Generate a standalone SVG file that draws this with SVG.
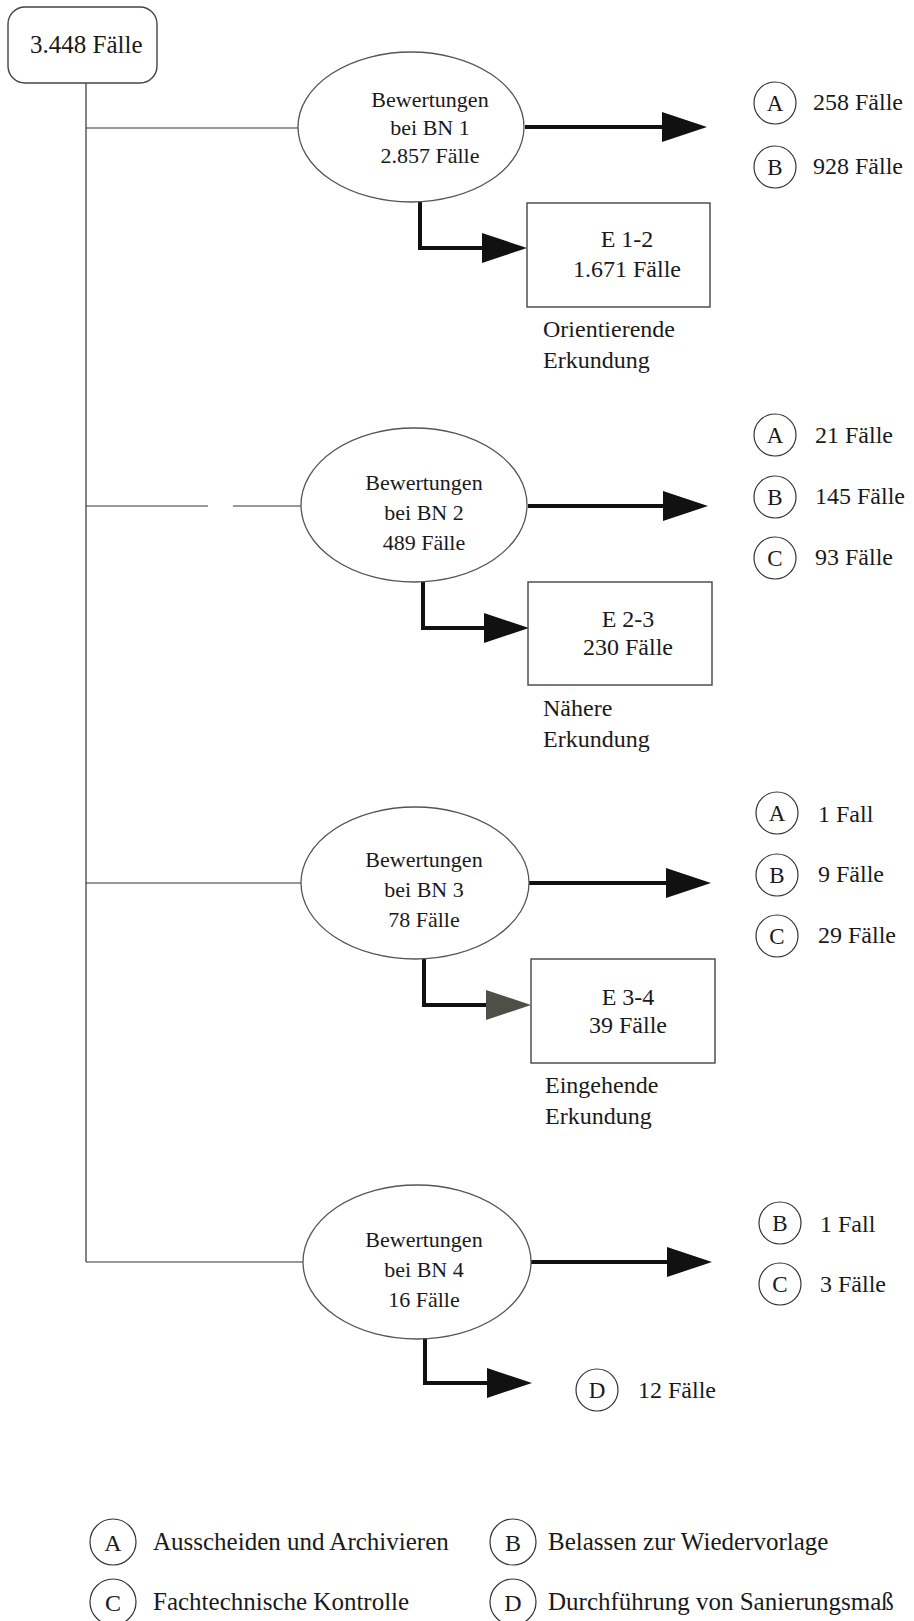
<svg xmlns="http://www.w3.org/2000/svg" width="914" height="1621" viewBox="0 0 914 1621">
<defs>
<style>
text{font-family:"Liberation Serif","Times New Roman",serif;fill:#1a1a1a}
.e{fill:none;stroke:#555;stroke-width:1.3}
.bx{fill:none;stroke:#444;stroke-width:1.4}
.thin{fill:none;stroke:#333;stroke-width:1.2}
.thick{fill:none;stroke:#111;stroke-width:4;stroke-linejoin:miter}
.c{fill:none;stroke:#333;stroke-width:1.2}
.et{font-size:22px;text-anchor:middle}
.bt{font-size:24px;text-anchor:middle}
.lt{font-size:24px}
.ct{font-size:23px;text-anchor:middle}
.lg{font-size:25px}
.lgc{font-size:24px;text-anchor:middle}
</style>
<marker id="ah" markerUnits="userSpaceOnUse" markerWidth="46" markerHeight="32" refX="0" refY="15" orient="auto" overflow="visible">
<path d="M0,0 L45,15 L0,30 Z" fill="#111"/>
</marker>
<marker id="ahg" markerUnits="userSpaceOnUse" markerWidth="46" markerHeight="32" refX="0" refY="15" orient="auto" overflow="visible">
<path d="M0,0 L45,15 L0,30 Z" fill="#4e5048"/>
</marker>
</defs>
<rect width="914" height="1621" fill="#fff"/>

<g id="connectors">
<path class="thin" d="M86,83 V1262"/>
<path class="thin" d="M86,128 H298"/>
<path class="thin" d="M86,506 H208 M233,506 H301"/>
<path class="thin" d="M86,883 H301"/>
<path class="thin" d="M86,1262 H303"/>
<path class="thick" d="M525,127 H662" marker-end="url(#ah)"/>
<path class="thick" d="M420,202 V248 H482" marker-end="url(#ah)"/>
<path class="thick" d="M528,506 H663" marker-end="url(#ah)"/>
<path class="thick" d="M423,582 V628 H484" marker-end="url(#ah)"/>
<path class="thick" d="M529,883 H666" marker-end="url(#ah)"/>
<path class="thick" d="M424,959 V1005 H486" marker-end="url(#ahg)"/>
<path class="thick" d="M531,1262 H667" marker-end="url(#ah)"/>
<path class="thick" d="M425,1338 V1383 H487" marker-end="url(#ah)"/>
</g>

<g id="start">
<rect x="8" y="7" width="149" height="76" rx="17" class="bx"/>
<text x="30" y="53" style="font-size:25px">3.448 Fälle</text>
</g>

<g id="bn1">
<ellipse cx="411" cy="127" rx="113" ry="75" class="e"/>
<text class="et" x="430" y="107">Bewertungen</text>
<text class="et" x="430" y="135">bei BN 1</text>
<text class="et" x="430" y="163">2.857 Fälle</text>
</g>
<g id="e12">
<rect x="527" y="203" width="183" height="104" class="bx"/>
<text class="bt" x="627" y="247">E 1-2</text>
<text class="bt" x="627" y="277">1.671 Fälle</text>
<text class="lt" x="543" y="337">Orientierende</text>
<text class="lt" x="543" y="368">Erkundung</text>
</g>
<g id="bn1-a"><circle cx="775" cy="103" r="21" class="c"/><text class="ct" x="775" y="111">A</text><text class="lt" x="813" y="110">258 Fälle</text></g>
<g id="bn1-b"><circle cx="775" cy="167" r="21" class="c"/><text class="ct" x="775" y="175">B</text><text class="lt" x="813" y="174">928 Fälle</text></g>

<g id="bn2">
<ellipse cx="414" cy="505" rx="113" ry="77" class="e"/>
<text class="et" x="424" y="490">Bewertungen</text>
<text class="et" x="424" y="520">bei BN 2</text>
<text class="et" x="424" y="550">489 Fälle</text>
</g>
<g id="e23">
<rect x="528" y="582" width="184" height="103" class="bx"/>
<text class="bt" x="628" y="627">E 2-3</text>
<text class="bt" x="628" y="655">230 Fälle</text>
<text class="lt" x="543" y="716">Nähere</text>
<text class="lt" x="543" y="747">Erkundung</text>
</g>
<g id="bn2-a"><circle cx="775" cy="435" r="21" class="c"/><text class="ct" x="775" y="443">A</text><text class="lt" x="815" y="443">21 Fälle</text></g>
<g id="bn2-b"><circle cx="775" cy="497" r="21" class="c"/><text class="ct" x="775" y="505">B</text><text class="lt" x="815" y="504">145 Fälle</text></g>
<g id="bn2-c"><circle cx="775" cy="558" r="21" class="c"/><text class="ct" x="775" y="566">C</text><text class="lt" x="815" y="565">93 Fälle</text></g>

<g id="bn3">
<ellipse cx="415" cy="883" rx="114" ry="76" class="e"/>
<text class="et" x="424" y="867">Bewertungen</text>
<text class="et" x="424" y="897">bei BN 3</text>
<text class="et" x="424" y="927">78 Fälle</text>
</g>
<g id="e34">
<rect x="531" y="959" width="184" height="104" class="bx"/>
<text class="bt" x="628" y="1005">E 3-4</text>
<text class="bt" x="628" y="1033">39 Fälle</text>
<text class="lt" x="545" y="1093">Eingehende</text>
<text class="lt" x="545" y="1124">Erkundung</text>
</g>
<g id="bn3-a"><circle cx="777" cy="813" r="21" class="c"/><text class="ct" x="777" y="821">A</text><text class="lt" x="818" y="822">1 Fall</text></g>
<g id="bn3-b"><circle cx="777" cy="875" r="21" class="c"/><text class="ct" x="777" y="883">B</text><text class="lt" x="818" y="882">9 Fälle</text></g>
<g id="bn3-c"><circle cx="777" cy="936" r="21" class="c"/><text class="ct" x="777" y="944">C</text><text class="lt" x="818" y="943">29 Fälle</text></g>

<g id="bn4">
<ellipse cx="417" cy="1262" rx="114" ry="77" class="e"/>
<text class="et" x="424" y="1247">Bewertungen</text>
<text class="et" x="424" y="1277">bei BN 4</text>
<text class="et" x="424" y="1307">16 Fälle</text>
</g>
<g id="bn4-b"><circle cx="780" cy="1223" r="21" class="c"/><text class="ct" x="780" y="1231">B</text><text class="lt" x="820" y="1232">1 Fall</text></g>
<g id="bn4-c"><circle cx="780" cy="1284" r="21" class="c"/><text class="ct" x="780" y="1292">C</text><text class="lt" x="820" y="1292">3 Fälle</text></g>
<g id="bn4-d"><circle cx="597" cy="1390" r="21" class="c"/><text class="ct" x="597" y="1398">D</text><text class="lt" x="638" y="1398">12 Fälle</text></g>

<g id="legend">
<circle cx="113" cy="1542" r="23" class="c"/><text class="lgc" x="113" y="1551">A</text><text class="lg" x="153" y="1550">Ausscheiden und Archivieren</text>
<circle cx="513" cy="1542" r="23" class="c"/><text class="lgc" x="513" y="1551">B</text><text class="lg" x="548" y="1550">Belassen zur Wiedervorlage</text>
<circle cx="113" cy="1602" r="23" class="c"/><text class="lgc" x="113" y="1611">C</text><text class="lg" x="153" y="1610">Fachtechnische Kontrolle</text>
<circle cx="513" cy="1602" r="23" class="c"/><text class="lgc" x="513" y="1611">D</text><text class="lg" x="548" y="1610">Durchführung von Sanierungsmaß</text>
</g>
</svg>
